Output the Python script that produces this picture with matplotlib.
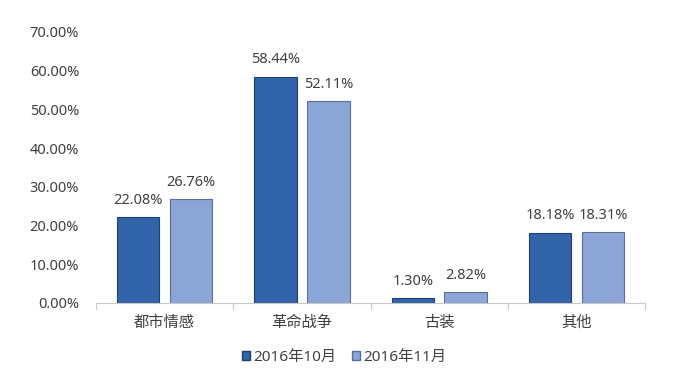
import matplotlib
matplotlib.use("Agg")
import matplotlib.pyplot as plt
import numpy as np
from matplotlib.patches import Patch

plt.rcParams['font.family'] = ['Noto Sans', 'Noto Sans CJK SC', 'DejaVu Sans']

categories = ['都市情感', '革命战争', '古装', '其他']
series_names = ['2016年10月', '2016年11月']
oct_vals = [22.08, 58.44, 1.30, 18.18]
nov_vals = [26.76, 52.11, 2.82, 18.31]
yticks = [0, 10, 20, 30, 40, 50, 60, 70]

colors = ['#3164A8', '#8BA5D6']
edges = ['#1F3F6E', '#5A6E94']
txt = '#404040'

fig = plt.figure(figsize=(6.75, 3.84), dpi=100)
ax = fig.add_axes([0.142, 0.211, 0.814, 0.706])

x = np.arange(len(categories))
w = 0.31
gap = 0.075
off = (w + gap) / 2
for i, (vals, c, e) in enumerate(zip([oct_vals, nov_vals], colors, edges)):
    pos = x + (-off if i == 0 else off)
    bars = ax.bar(pos, vals, width=w, color=c, edgecolor=e, linewidth=0.8)
    for b, v in zip(bars, vals):
        ax.text(b.get_x() + b.get_width() / 2, v + 2.4, f'{v:.2f}%',
                ha='center', va='bottom', fontsize=10.5, color=txt)

ax.set_xlim(-0.5, len(categories) - 0.5)
ax.set_ylim(0, 70)
ax.set_yticks(yticks)
ax.set_yticklabels([f'{t:.2f}%' for t in yticks], fontsize=10.5, color=txt)
ax.set_xticks(x)
ax.set_xticklabels(categories, fontsize=11, color=txt)
ax.tick_params(axis='y', length=0, pad=12)
ax.tick_params(axis='x', length=0, pad=9)
for s in ['top', 'right', 'left']:
    ax.spines[s].set_visible(False)
ax.spines['bottom'].set_color('#C8C8C8')
for b in np.arange(-0.5, len(categories), 1.0):
    ax.plot([b, b], [0, -1.5], color='#C8C8C8', lw=0.8, clip_on=False)

handles = [Patch(facecolor=c, edgecolor=e, label=n) for c, e, n in zip(colors, edges, series_names)]
fig.legend(handles=handles, loc='center', bbox_to_anchor=(0.51, 0.07), ncol=2,
           frameon=False, fontsize=11, handlelength=0.5, handleheight=0.5,
           handletextpad=0.25, columnspacing=1.0, labelcolor=txt)

fig.savefig('out.png', dpi=100)
